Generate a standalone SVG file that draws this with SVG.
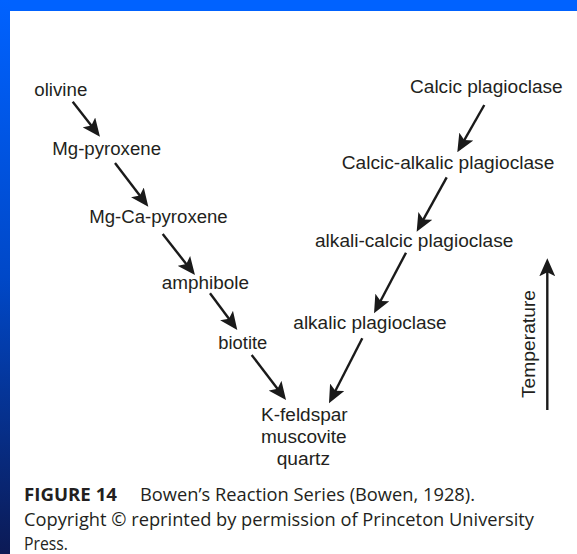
<svg xmlns="http://www.w3.org/2000/svg" width="577" height="554" viewBox="0 0 577 554">
<defs>
<linearGradient id="leftbar" x1="0" y1="0" x2="0" y2="1">
<stop offset="0" stop-color="#0062ff"/>
<stop offset="0.5" stop-color="#0048c8"/>
<stop offset="1" stop-color="#0c1a55"/>
</linearGradient>
<marker id="ah" viewBox="0 0 18 16" refX="14" refY="8" markerWidth="18" markerHeight="16" markerUnits="userSpaceOnUse" orient="auto">
<path d="M0,0 L18,8 L0,16 L4,8 Z" fill="#1a1a1a"/>
</marker>
<style>
.lbl{font-family:"Liberation Sans",Arial,sans-serif;font-size:17.5px;fill:#231f20}
.cap{font-family:"Open Sans","Noto Sans",sans-serif;font-size:17.5px;fill:#231f20}
.arr{stroke:#1a1a1a;stroke-width:2.4;fill:none;marker-end:url(#ah)}
</style>
</defs>
<rect x="0" y="0" width="577" height="554" fill="#ffffff"/>
<rect x="0" y="0" width="577" height="11" fill="#0062ff"/>
<rect x="0" y="0" width="10" height="554" fill="url(#leftbar)"/>

<g id="connectors">
<line class="arr" x1="72.7" y1="101.7" x2="97.5" y2="133.5"/>
<line class="arr" x1="115" y1="163" x2="145.9" y2="203.5"/>
<line class="arr" x1="162.7" y1="234" x2="192.5" y2="271.9"/>
<line class="arr" x1="210" y1="293.3" x2="234.9" y2="326.8"/>
<line class="arr" x1="251.7" y1="355" x2="283.6" y2="396.8"/>
<line class="arr" x1="484.3" y1="105" x2="459.3" y2="148.8"/>
<line class="arr" x1="446.7" y1="177.3" x2="418.6" y2="228.2"/>
<line class="arr" x1="406" y1="252.7" x2="375.9" y2="309.8"/>
<line class="arr" x1="362.3" y1="338.3" x2="330.8" y2="399.7"/>
<line class="arr" x1="547.3" y1="410" x2="547.3" y2="262.3"/>
</g>

<g id="olivine"><text class="lbl" x="34.3" y="95.5" textLength="53" lengthAdjust="spacingAndGlyphs">olivine</text></g>
<g id="mg-pyroxene"><text class="lbl" x="52.3" y="155" textLength="108.7" lengthAdjust="spacingAndGlyphs">Mg-pyroxene</text></g>
<g id="mg-ca-pyroxene"><text class="lbl" x="89.3" y="223" textLength="138.4" lengthAdjust="spacingAndGlyphs">Mg-Ca-pyroxene</text></g>
<g id="amphibole"><text class="lbl" x="161.7" y="288.5" textLength="87.3" lengthAdjust="spacingAndGlyphs">amphibole</text></g>
<g id="biotite"><text class="lbl" x="218.3" y="348.5" textLength="49" lengthAdjust="spacingAndGlyphs">biotite</text></g>
<g id="calcic-plagioclase"><text class="lbl" x="410" y="93.3" textLength="152.7" lengthAdjust="spacingAndGlyphs">Calcic plagioclase</text></g>
<g id="calcic-alkalic-plagioclase"><text class="lbl" x="341.7" y="169.3" textLength="212.6" lengthAdjust="spacingAndGlyphs">Calcic-alkalic plagioclase</text></g>
<g id="alkali-calcic-plagioclase"><text class="lbl" x="315" y="246.5" textLength="198.3" lengthAdjust="spacingAndGlyphs">alkali-calcic plagioclase</text></g>
<g id="alkalic-plagioclase"><text class="lbl" x="293.3" y="328.5" textLength="153.4" lengthAdjust="spacingAndGlyphs">alkalic plagioclase</text></g>
<g id="final-minerals">
<text class="lbl" x="261" y="420.5" textLength="86.7" lengthAdjust="spacingAndGlyphs">K-feldspar</text>
<text class="lbl" x="261" y="443.3" textLength="85.7" lengthAdjust="spacingAndGlyphs">muscovite</text>
<text class="lbl" x="276.7" y="465" textLength="53.3" lengthAdjust="spacingAndGlyphs">quartz</text>
</g>
<g id="temperature"><text class="lbl" transform="translate(535,398) rotate(-90)" x="0" y="0" textLength="108" lengthAdjust="spacingAndGlyphs">Temperature</text></g>

<g id="caption">
<text class="cap" x="24" y="501" font-weight="bold" textLength="93" lengthAdjust="spacingAndGlyphs">FIGURE 14</text>
<text class="cap" x="140" y="501" textLength="335" lengthAdjust="spacingAndGlyphs">Bowen’s Reaction Series (Bowen, 1928).</text>
<text class="cap" x="24" y="525.5" textLength="510" lengthAdjust="spacingAndGlyphs">Copyright © reprinted by permission of Princeton University</text>
<text class="cap" x="24" y="549.5" textLength="44" lengthAdjust="spacingAndGlyphs">Press.</text>
</g>
</svg>
